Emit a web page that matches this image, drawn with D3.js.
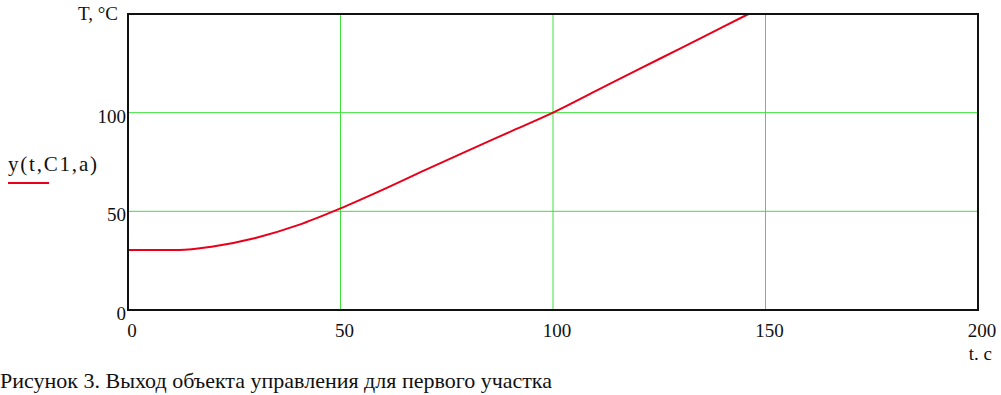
<!DOCTYPE html>
<html>
<head>
<meta charset="utf-8">
<script src="https://d3js.org/d3.v7.min.js"></script>
<style>
body { margin: 0; background: #fff; }
text { font-family: "Liberation Serif", "Times New Roman", serif; fill: #111; }
</style>
</head>
<body>
<script>
// values
var tVals = [0, 12, 20, 30, 40, 50, 60, 70, 80, 90, 100, 110, 120, 130, 140, 146];
var yVals = [30.4, 30.4, 32.2, 36.5, 43, 51.5, 61, 71, 80.8, 90.4, 100, 110.9, 121.8, 132.6, 143.5, 150];
var xTicks = [0, 50, 100, 150, 200];
var yTicks = [0, 50, 100, 150];
var yLabelTicks = [0, 50, 100];

var width = 1001, height = 395;
var mLeft = 128, mRight = 978, mTop = 14, mBottom = 310;

var svg = d3.select("body").append("svg")
  .attr("width", width)
  .attr("height", height);

var x = d3.scaleLinear().domain([0, 200]).range([mLeft, mRight]);
var y = d3.scaleLinear().domain([0, 150]).range([mBottom, mTop]);

// grid
svg.append("g").selectAll("line")
  .data(xTicks.filter(function(d){ return d > 0 && d < 200; }))
  .enter().append("line")
  .attr("x1", function(d){ return x(d); }).attr("x2", function(d){ return x(d); })
  .attr("y1", mTop).attr("y2", mBottom)
  .attr("stroke", "#3ee03e").attr("stroke-width", 1);
svg.append("g").selectAll("line")
  .data(yTicks.filter(function(d){ return d > 0 && d < 150; }))
  .enter().append("line")
  .attr("x1", mLeft).attr("x2", mRight)
  .attr("y1", function(d){ return y(d); }).attr("y2", function(d){ return y(d); })
  .attr("stroke", "#3ee03e").attr("stroke-width", 1);

// curve
var line = d3.line()
  .x(function(d, i){ return x(tVals[i]); })
  .y(function(d){ return y(d); })
  .curve(d3.curveMonotoneX);
svg.append("path")
  .datum(yVals)
  .attr("d", line)
  .attr("fill", "none")
  .attr("stroke", "#e8001a")
  .attr("stroke-width", 2);

// frame
svg.append("rect")
  .attr("x", mLeft).attr("y", mTop)
  .attr("width", mRight - mLeft).attr("height", mBottom - mTop)
  .attr("fill", "none").attr("stroke", "#111").attr("stroke-width", 2);

// tick labels
svg.append("g").selectAll("text")
  .data(xTicks).enter().append("text")
  .attr("x", function(d){ return x(d) + 4; })
  .attr("y", 337)
  .attr("text-anchor", "middle")
  .attr("font-size", 19)
  .text(function(d){ return d; });
svg.append("g").selectAll("text")
  .data(yLabelTicks).enter().append("text")
  .attr("x", mLeft - 2)
  .attr("y", function(d){ return y(d) + 10; })
  .attr("text-anchor", "end")
  .attr("font-size", 19)
  .text(function(d){ return d; });

// axis titles
svg.append("text").attr("x", 78).attr("y", 20).attr("font-size", 19).text("T, °C");
svg.append("text").attr("x", 992).attr("y", 360).attr("text-anchor", "end").attr("font-size", 19).text("t. c");

// legend
svg.append("text").attr("x", 8).attr("y", 171).attr("font-size", 21)
  .attr("textLength", 89).attr("lengthAdjust", "spacing").text("y(t,C1,a)");
svg.append("line").attr("x1", 8).attr("x2", 49).attr("y1", 183).attr("y2", 183)
  .attr("stroke", "#e8001a").attr("stroke-width", 2);

// caption
svg.append("text").attr("x", 0).attr("y", 388).attr("font-size", 21)
  .attr("textLength", 552).attr("lengthAdjust", "spacingAndGlyphs")
  .text("Рисунок 3. Выход объекта управления для первого участка");
</script>
</body>
</html>
